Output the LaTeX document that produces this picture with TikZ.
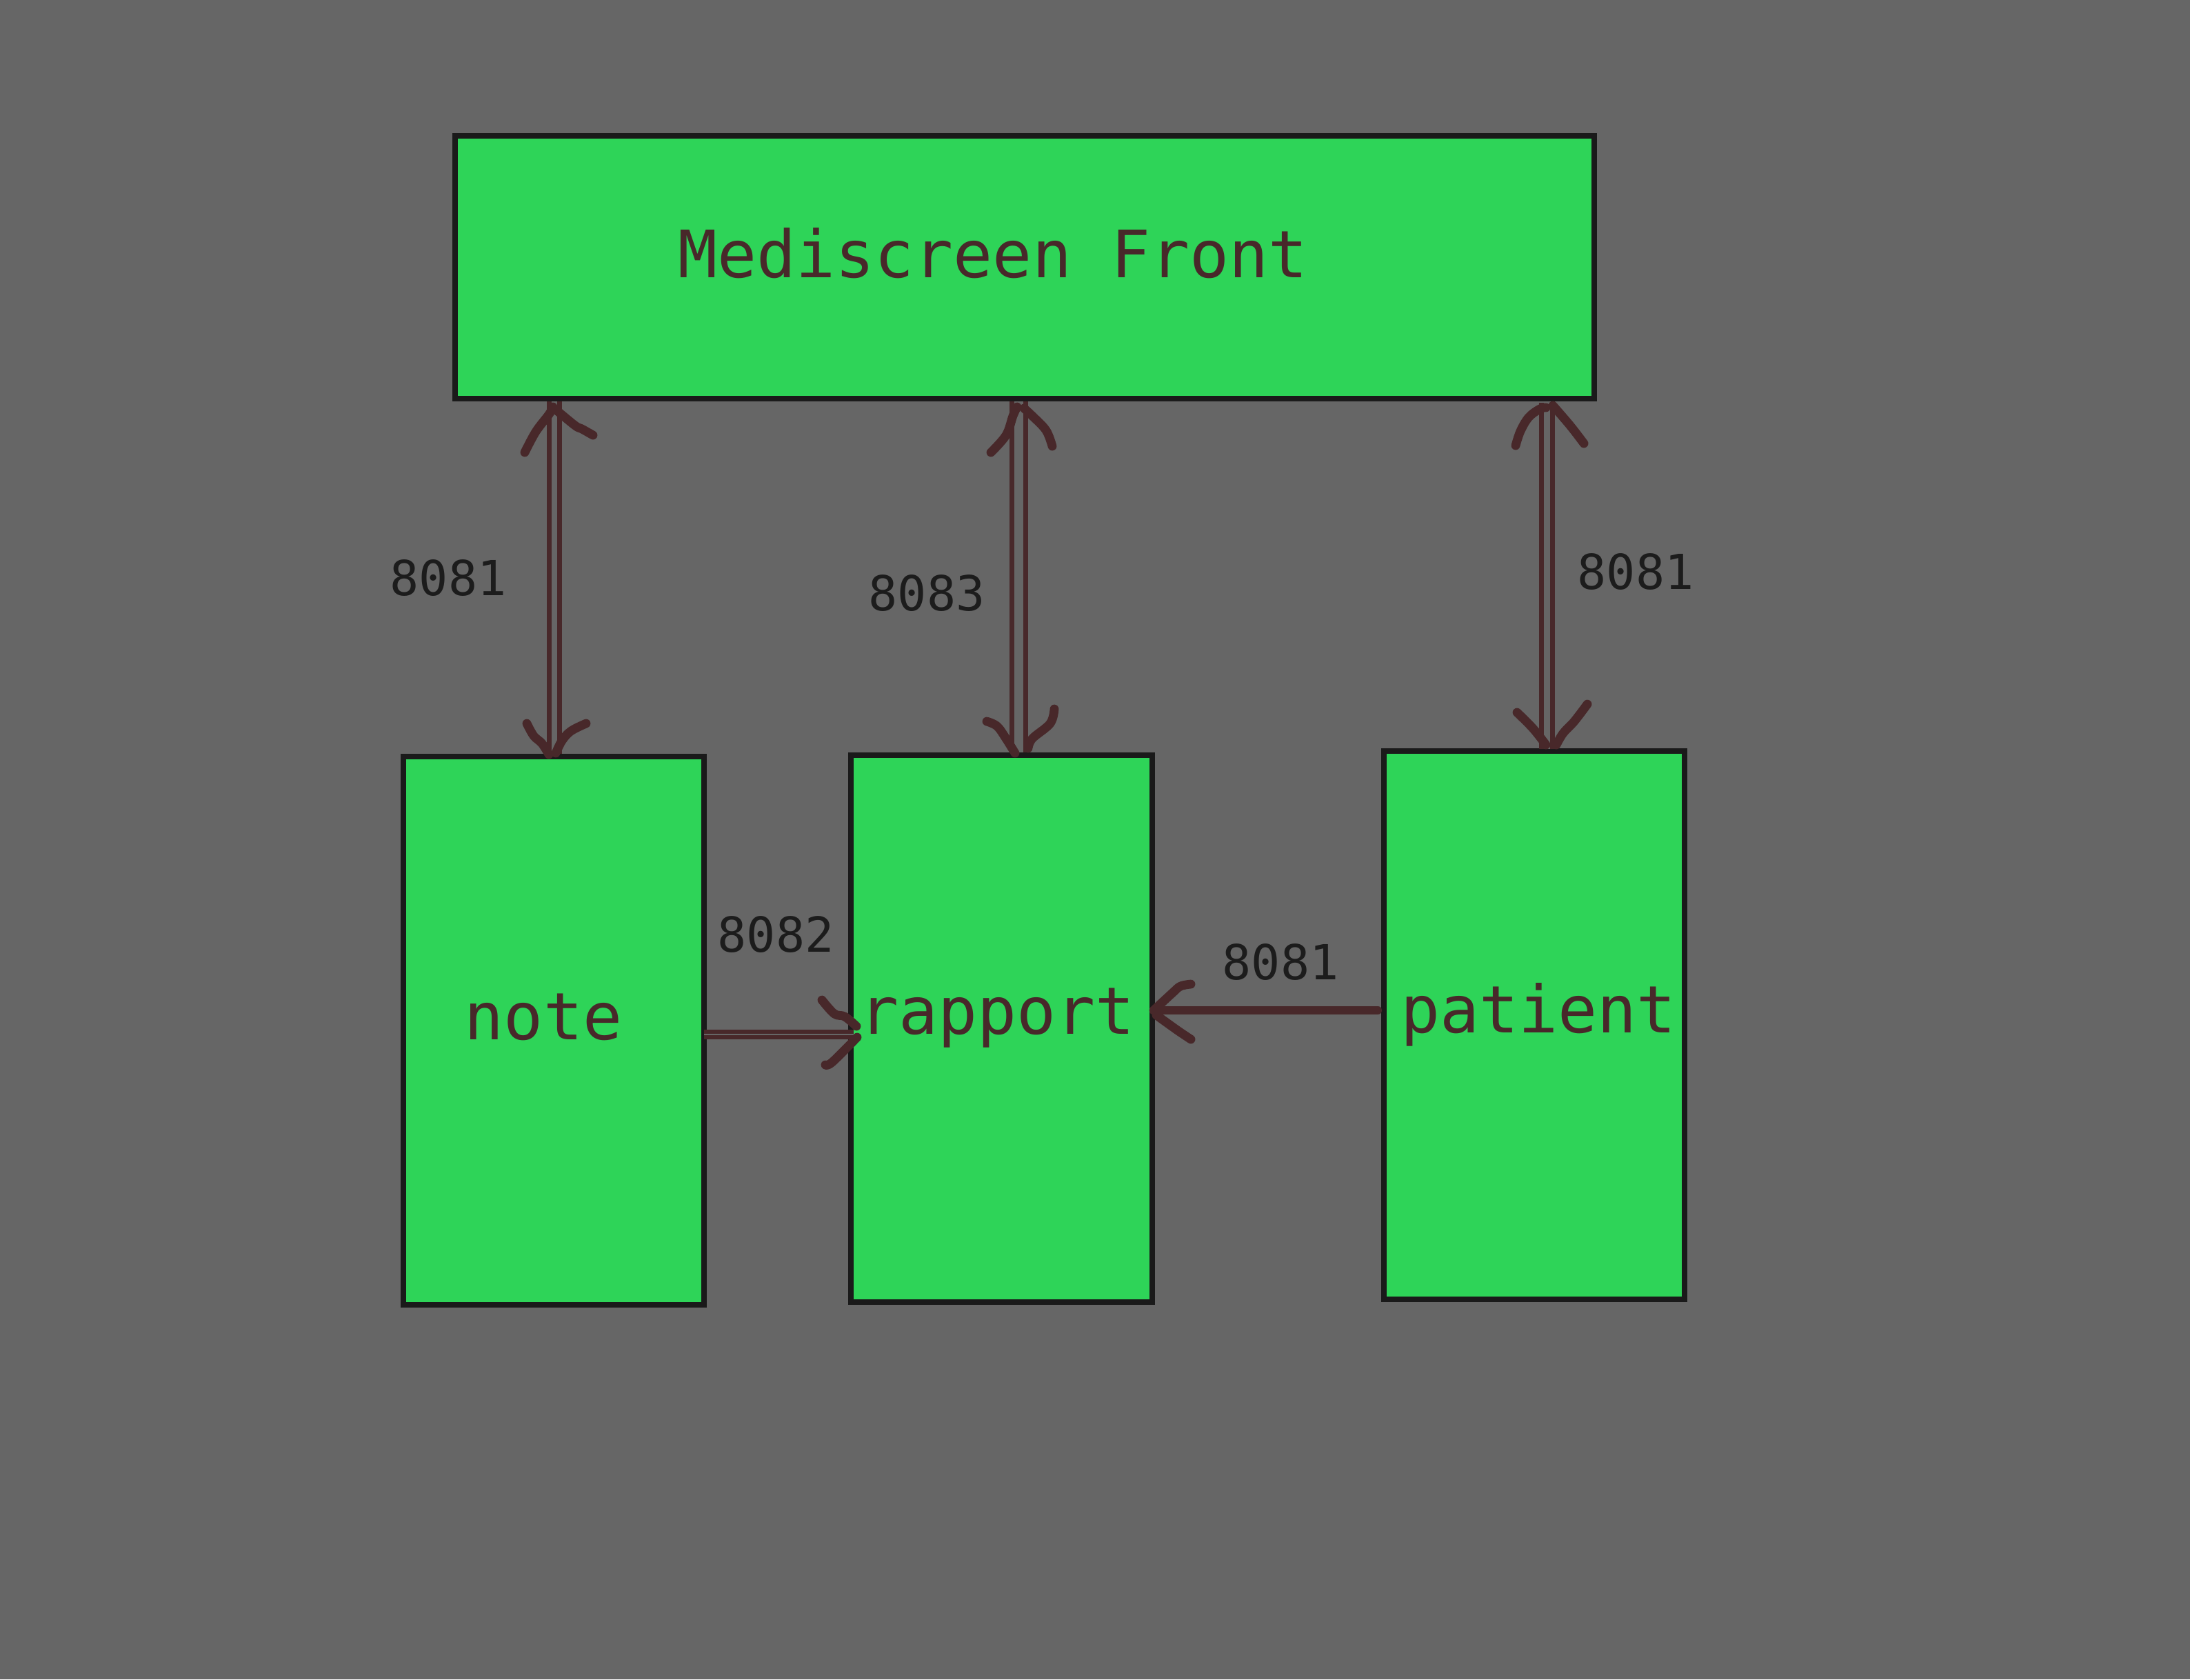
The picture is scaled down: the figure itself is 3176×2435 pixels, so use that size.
\documentclass[tikz,border=0pt]{standalone}
\usepackage{fontspec}
\setmonofont{DejaVu Sans Mono}
\usetikzlibrary{calc}
\definecolor{bg}{HTML}{666666}
\definecolor{boxgreen}{HTML}{2ED458}
\definecolor{edgec}{HTML}{1A1A1A}
\definecolor{ink}{HTML}{48282A}
\definecolor{portc}{HTML}{1C1C1C}
\newcommand\drawbarb[2]{\draw[barbst,shift={(#1)}] plot[smooth,tension=0.6] coordinates {#2};}
\begin{document}
\begin{tikzpicture}[x=0.25pt,y=-0.25pt,
  box/.style={draw=edgec, fill=boxgreen, line width=1.9pt, inner sep=0pt, outer sep=0pt, anchor=north west},
  lbl/.style={text=ink, inner sep=0pt, anchor=base, font=\fontsize{23.7pt}{28pt}\selectfont\ttfamily},
  portlbl/.style={text=portc, inner sep=0pt, anchor=base, font=\fontsize{17.5pt}{21pt}\selectfont\ttfamily},
  dshaft/.style={draw=ink, line width=1.75pt, double=bg, double distance=2pt},
  shaft/.style={draw=ink, line width=3pt, line cap=round},
  barbst/.style={draw=ink, line width=3.2pt, line cap=round, line join=round}]
\useasboundingbox (0,0) rectangle (3176,2435);
\fill[bg] (0,0) rectangle (3176,2435);
% boxes
\node[box, minimum width=1652*0.25pt, minimum height=381*0.25pt] (front) at (660,197) {};
\node[box, minimum width=436*0.25pt, minimum height=795*0.25pt] (note) at (585,1097) {};
\node[box, minimum width=437*0.25pt, minimum height=793*0.25pt] (rapport) at (1234,1095) {};
\node[box, minimum width=436*0.25pt, minimum height=795*0.25pt] (patient) at (2007,1089) {};
% box texts
\node[lbl] (tfront) at (1440,402) {Mediscreen Front};
\node[lbl] (tnote) at (788,1507) {note};
\node[lbl] (trapport) at (1446,1499) {rapport};
\node[lbl] (tpatient) at (2231,1497) {patient};
% port labels
\node[portlbl] (p1) at (650,863) {8081};
\node[portlbl] (p2) at (1344,885) {8083};
\node[portlbl] (p3) at (2372,854) {8081};
\node[portlbl] (p4) at (1125,1380) {8082};
\node[portlbl] (p5) at (1857,1420) {8081};
% helper coordinates
\coordinate (xa) at (804,0);
\coordinate (xb) at (1477,0);
\coordinate (xc) at (2243,0);
\coordinate (yd) at (0,1500);
\coordinate (ye) at (0,1465);
% shafts
\draw[dshaft] ($(front.south -| xa)+(0,4)$) -- ($(note.north -| xa)+(0,-4)$);
\draw[dshaft, double distance=3.25pt] ($(front.south -| xb)+(0,4)$) -- ($(rapport.north -| xb)+(0,-4)$);
\draw[dshaft, double distance=2.25pt] ($(front.south -| xc)+(0,6)$) -- ($(patient.north -| xc)+(0,-3)$);
\draw[dshaft, line width=1.6pt, double distance=0.5pt] (note.east |- yd) -- ($(rapport.west |- yd)+(4,0)$);
\draw[shaft] ($(patient.west |- ye)+(-9,0)$) -- ($(rapport.east |- ye)+(2,0)$);
% arrow tips
\coordinate (At) at ($(front.south -| xa)+(-2,12)$);
\coordinate (Ab) at ($(note.north -| xa)+(-7,-3)$);
\coordinate (Bt) at ($(front.south -| xb)+(1,11)$);
\coordinate (Bb) at ($(rapport.north -| xb)+(1,-1)$);
\coordinate (Ct) at ($(front.south -| xc)+(7,10)$);
\coordinate (Cb) at ($(patient.north -| xc)+(2,-4)$);
\coordinate (Dt) at ($(rapport.west |- yd)+(9,2)$);
\coordinate (Et) at ($(rapport.east |- ye)+(2,0)$);
\drawbarb{At}{(-41,66) (-25,36) (-6,11) (0,0)}
\drawbarb{At}{(4,4) (32,27) (42,32) (58,41)}
\drawbarb{Ab}{(-33,-45) (-23,-27) (-11,-16) (-1,0)}
\drawbarb{Ab}{(53,-45) (31,-34) (18,-20) (9,-2)}
\drawbarb{Bt}{(-41,67) (-19,42) (-9,14) (-3,1)}
\drawbarb{Bt}{(48,58) (39,35) (19,14) (7,3)}
\drawbarb{Bb}{(-47,-48) (-32,-41) (-19,-23) (-6,-2)}
\drawbarb{Bb}{(51,-66) (45,-45) (19,-23) (13,-9)}
\drawbarb{Ct}{(-52,58) (-45,37) (-33,17) (-17,5) (-8,3)}
\drawbarb{Ct}{(2,0) (27,29) (47,55)}
\drawbarb{Cb}{(-45,-52) (-22,-29) (-3,-5)}
\drawbarb{Cb}{(57,-64) (38,-39) (22,-22) (12,-5)}
\drawbarb{Dt}{(-51,-52) (-33,-32) (-18,-28) (-1,-14)}
\drawbarb{Dt}{(0,2) (-36,38) (-46,42)}
\drawbarb{Et}{(54,-38) (39,-35) (27,-25) (0,0)}
\drawbarb{Et}{(4,7) (29,25) (39,32) (54,42)}
\end{tikzpicture}
\end{document}
